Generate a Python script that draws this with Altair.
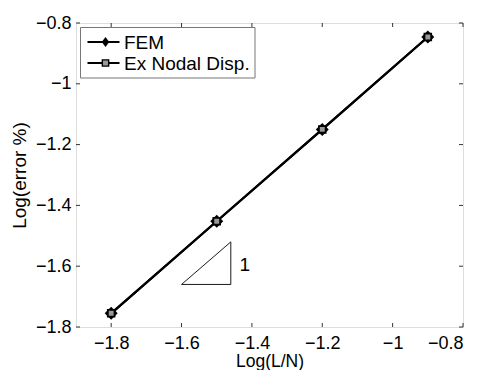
import altair as alt
import pandas as pd

# ---- data ----
x_vals = [-1.8, -1.5, -1.2, -0.9]
fem_y = [-1.755, -1.452, -1.150, -0.846]
exnd_y = [-1.755, -1.452, -1.150, -0.846]
x_ticks = [-1.8, -1.6, -1.4, -1.2, -1.0, -0.8]
y_ticks = [-1.8, -1.6, -1.4, -1.2, -1.0, -0.8]
tri_x = [-1.6, -1.46, -1.46, -1.6]
tri_y = [-1.66, -1.66, -1.52, -1.66]
slope_label = ["1"]
slope_label_x = [-1.435]
slope_label_y = [-1.595]
legend_labels = ["FEM", "Ex Nodal Disp."]

W, H = 387, 304
FONT = "Liberation Sans"
xs = alt.Scale(domain=[-1.9, -0.8], nice=False, zero=False)
ys = alt.Scale(domain=[-1.8, -0.8], nice=False, zero=False)

fem = pd.DataFrame({"x": x_vals, "y": fem_y})
exnd = pd.DataFrame({"x": x_vals, "y": exnd_y})
tri = pd.DataFrame({"x": tri_x, "y": tri_y, "o": list(range(len(tri_x)))})
lab = pd.DataFrame({"x": slope_label_x, "y": slope_label_y, "t": slope_label})
xt = pd.DataFrame({"v": x_ticks})
yt = pd.DataFrame({"v": y_ticks})

xaxis = alt.Axis(values=x_ticks, format="~g", title="Log(L/N)", grid=False, domain=False,
                 ticks=False, tickSize=0, labelPadding=7, titleY=25, titleBaseline="top",
                 labelFont=FONT, titleFont=FONT, labelFontSize=18, titleFontSize=17.5,
                 titleFontWeight="normal", labelColor="black", titleColor="black")
yaxis = alt.Axis(values=y_ticks, format="~g", title="Log(error %)", grid=False, domain=False,
                 ticks=False, tickSize=0, labelPadding=5, titleX=-47,
                 labelFont=FONT, titleFont=FONT, labelFontSize=18, titleFontSize=19,
                 titleFontWeight="normal", labelColor="black", titleColor="black")

# main lines
fem_line = alt.Chart(fem).mark_line(color="black", strokeWidth=2.2).encode(
    x=alt.X("x:Q", scale=xs, axis=xaxis), y=alt.Y("y:Q", scale=ys, axis=yaxis))
diamond_path = "M0,-1L1,0L0,1L-1,0Z"
fem_pts = alt.Chart(fem).mark_point(shape=diamond_path, filled=True, color="black", size=169, opacity=1).encode(
    x=alt.X("x:Q", scale=xs), y=alt.Y("y:Q", scale=ys))
ex_line = alt.Chart(exnd).mark_line(color="black", strokeWidth=2.2).encode(
    x=alt.X("x:Q", scale=xs), y=alt.Y("y:Q", scale=ys))
ex_pts = alt.Chart(exnd).mark_point(shape="square", filled=True, fill="#999999", stroke="black",
                                    strokeWidth=1.8, size=45, opacity=1).encode(
    x=alt.X("x:Q", scale=xs), y=alt.Y("y:Q", scale=ys))

# slope triangle
tri_line = alt.Chart(tri).mark_line(color="black", strokeWidth=0.9).encode(
    x=alt.X("x:Q", scale=xs), y=alt.Y("y:Q", scale=ys), order="o:Q")
tri_text = alt.Chart(lab).mark_text(font=FONT, fontSize=19, color="black", align="left", baseline="middle").encode(
    x=alt.X("x:Q", scale=xs), y=alt.Y("y:Q", scale=ys), text="t:N")

# inward ticks
tb = alt.Chart(xt).mark_rule(color="#333333", strokeWidth=1).encode(
    x=alt.X("v:Q", scale=xs), y=alt.value(H), y2=alt.value(H - 4))
tt = alt.Chart(xt).mark_rule(color="#333333", strokeWidth=1).encode(
    x=alt.X("v:Q", scale=xs), y=alt.value(0), y2=alt.value(4))
tl = alt.Chart(yt).mark_rule(color="#333333", strokeWidth=1).encode(
    y=alt.Y("v:Q", scale=ys), x=alt.value(0), x2=alt.value(4))
tr = alt.Chart(yt).mark_rule(color="#333333", strokeWidth=1).encode(
    y=alt.Y("v:Q", scale=ys), x=alt.value(W), x2=alt.value(W - 4))

# legend (manual, MATLAB style)
one = pd.DataFrame({"a": [0]})
leg_box = alt.Chart(one).mark_rect(fill="white", stroke="#777777", strokeWidth=1).encode(
    x=alt.value(4.5), x2=alt.value(179), y=alt.value(4.5), y2=alt.value(55))
rows = []
row_y = [19, 40]
for i, name in enumerate(legend_labels):
    d = pd.DataFrame({"t": [name]})
    ry = row_y[i]
    rows.append(alt.Chart(d).mark_rule(color="black", strokeWidth=2.2).encode(
        x=alt.value(11.5), x2=alt.value(43.5), y=alt.value(ry)))
    if i == 0:
        rows.append(alt.Chart(d).mark_point(shape="M0,-1L0.75,0L0,1L-0.75,0Z", filled=True, color="black",
                                            size=100, opacity=1).encode(
            x=alt.value(29.5), y=alt.value(ry)))
    else:
        rows.append(alt.Chart(d).mark_point(shape="square", filled=True, fill="#999999", stroke="black",
                                            strokeWidth=1.4, size=40, opacity=1).encode(
            x=alt.value(29.5), y=alt.value(ry)))
    rows.append(alt.Chart(d).mark_text(font=FONT, fontSize=19, color="black", align="left", baseline="middle").encode(
        x=alt.value(48), y=alt.value(ry + 1), text="t:N"))

chart = alt.layer(
    tb, tt, tl, tr, tri_line, tri_text, fem_line, fem_pts, ex_line, ex_pts, leg_box, *rows
).properties(
    width=W, height=H,
    autosize=alt.AutoSizeParams(type="none"),
    padding={"left": 76, "top": 23, "right": 14, "bottom": 43},
).configure_view(stroke="#333333", strokeWidth=1).configure(background="white")

chart.save("out.html", embed_options={"renderer": "svg", "actions": False})
